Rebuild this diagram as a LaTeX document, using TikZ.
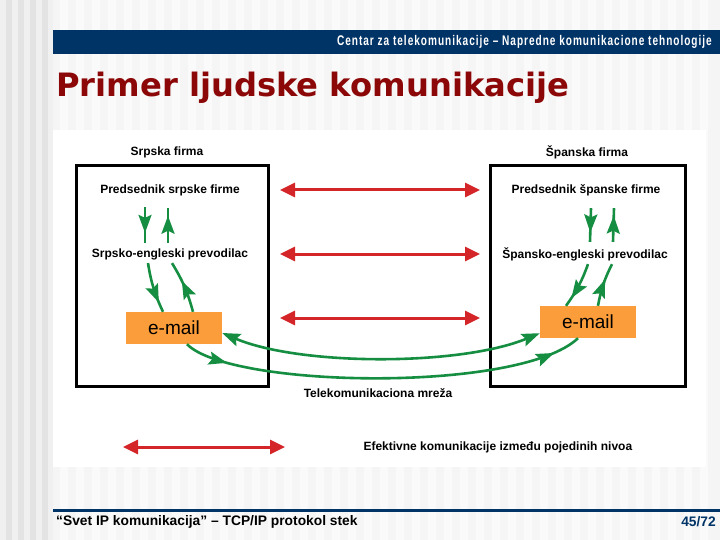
\documentclass[tikz,border=0pt]{standalone}
\usepackage{fontspec}
\setmainfont{Liberation Sans}
\newfontfamily\narrowfont[FakeStretch=0.72,LetterSpace=7]{Liberation Sans}
\newfontfamily\titlefont{DejaVu Sans}
\usetikzlibrary{%
   arrows.meta,%
   decorations.markings,%
   positioning%
}
\definecolor{navy}{RGB}{0,51,102}
\definecolor{titlered}{RGB}{140,8,8}
\definecolor{arrowred}{RGB}{212,38,40}
\definecolor{arrowgreen}{RGB}{22,142,66}
\definecolor{mailorange}{RGB}{251,157,58}

\begin{document}
\begin{tikzpicture}[x=1pt,y=-1pt,firm/.style={
	rectangle,
	draw=black,
	line width=3pt,
	minimum width=192pt,
	minimum height=220pt
	},label/.style={
	inner sep=3.3pt,
	font=\fontsize{12}{14}\selectfont\bfseries
	},mail/.style={
	rectangle,fill=mailorange,
	minimum width=96pt,minimum height=32pt,inner sep=0pt,
	font=\fontsize{19}{21}\selectfont
	},level/.style={
	color=arrowred,line width=3pt,
	arrows={Triangle[length=15pt,width=14pt]-Triangle[length=15pt,width=14pt]}
	},flow/.style={
	color=arrowgreen,line width=2.6pt
	},midarrow/.style={
	postaction={decorate,decoration={markings,
	mark=at position #1 with {\arrow{Stealth[length=18pt,width=13pt,inset=3pt]}}}}
	}
]

\useasboundingbox (0,0) rectangle (720,540);
% background
\fill[gray!22] (0,0) rectangle (53,540);
\foreach \i in {0,12,...,48} {\fill[gray!12] (\i,0) rectangle (\i+6,540);}
\fill[gray!8] (53,0) rectangle (720,540);
\foreach \i in {60,76,...,712} {\fill[gray!4] (\i,0) rectangle (\i+8,540);}
\fill[white] (53,130) rectangle (706,467);

% header and title
\fill[navy] (53,30) rectangle (720,54);
\node (header) [anchor=east,text=white,inner sep=0pt,font=\narrowfont\fontsize{14}{16}\selectfont\bfseries] at (712,42) {Centar za telekomunikacije – Napredne komunikacione tehnologije};
\node (title) [anchor=west,text=titlered,inner sep=0pt,font=\titlefont\fontsize{32.2}{36}\selectfont\bfseries] at (56,88) {Primer ljudske komunikacije};

% firms
\node (srbBox) [firm] at (172,276) {};
\node (espBox) [firm,minimum width=195pt] at (587.5,276) {};
\node (srbName) [label] at (167,152) {Srpska firma};
\node (espName) [label] at (587,152) {Španska firma};
\node (presS) [label] at (170,190) {Predsednik srpske firme};
\node (presE) [label] at (586,190) {Predsednik španske firme};
\node (trS) [label] at (170,254) {Srpsko-engleski prevodilac};
\node (trE) [label] at (585,254) {Špansko-engleski prevodilac};
\node (mailS) [mail] at (174,328) {e-mail};
\node (mailE) [mail] at (588,322) {e-mail};
\node (net) [label] at (378,393) {Telekomunikaciona mreža};

% levels
\foreach \y/\n in {190/1,254/2,318/3} {
	\coordinate (L\n) at (280,\y);
	\coordinate (R\n) at (480,\y);
	\draw[level] (L\n) -- (R\n);
}

% inside the firms
\draw[flow,midarrow=0.72] ([xshift=-25pt,yshift=-8pt]presS.south) -- ([xshift=-25pt,yshift=2pt]trS.north);
\draw[flow,midarrow=0.78] ([xshift=-2pt,yshift=2pt]trS.north) -- ([xshift=-2pt,yshift=-9pt]presS.south);
\draw[flow,midarrow=0.8] ([xshift=-22pt]trS.south) to[bend right=8] ([xshift=-11pt]mailS.north);
\draw[flow,midarrow=0.62] ([xshift=19pt]mailS.north) to[bend right=8] ([xshift=2pt]trS.south);
\draw[flow,midarrow=0.72] ([xshift=5pt,yshift=-9pt]presE.south) -- ([xshift=5pt,yshift=2pt]trE.north);
\draw[flow,midarrow=0.78] ([xshift=28pt,yshift=2pt]trE.north) -- ([xshift=28pt,yshift=-9pt]presE.south);
\draw[flow,midarrow=0.8] ([xshift=3pt]trE.south) to[bend left=8] ([xshift=-22pt]mailE.north);
\draw[flow,midarrow=0.62] ([xshift=10pt]mailE.north) to[bend left=8] ([xshift=27pt]trE.south);

% network
\draw[flow,arrows={Stealth[length=18pt,width=13pt,inset=3pt]-Stealth[length=18pt,width=13pt,inset=3pt]}] ([yshift=-5pt]mailS.east) .. controls +(78,33) and +(-80,33) .. ([yshift=5pt]mailE.south west);
\draw[flow,midarrow=0.11,midarrow=0.93] ([xshift=13pt]mailS.south) .. controls +(43,44) and +(-58,55) .. ([xshift=-10pt]mailE.south);

% legend
\coordinate (legL) at (123,447);
\coordinate (legR) at (285,447);
\draw[level] (legL) -- (legR);
\node (legText) [label,anchor=west] at (360,447) {Efektivne komunikacije između pojedinih nivoa};

% footer
\fill[navy] (53,509) rectangle (720,512);
\node (footer) [anchor=west,inner sep=0pt,font=\fontsize{13.8}{16}\selectfont\bfseries] at (56,522) {“Svet IP komunikacija” – TCP/IP protokol stek};
\node (page) [anchor=east,inner sep=0pt,text=navy,font=\fontsize{13.8}{16}\selectfont\bfseries] at (716,522) {45/72};

\end{tikzpicture}
\end{document}
